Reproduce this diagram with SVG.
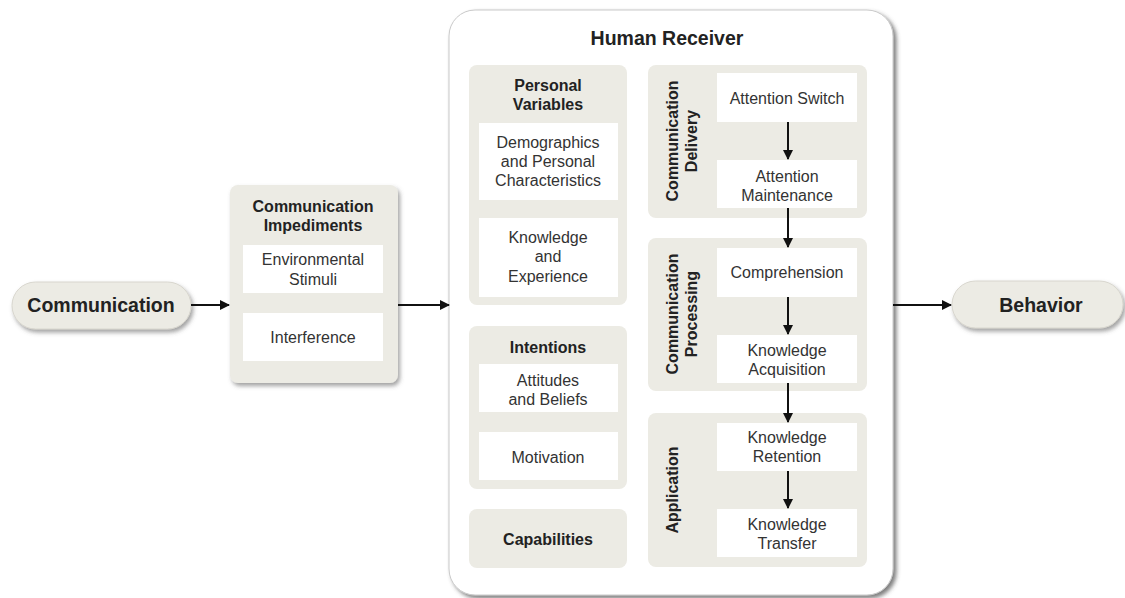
<svg xmlns="http://www.w3.org/2000/svg" width="1125" height="598" viewBox="0 0 1125 598">
<defs>
<filter id="sh" x="-10%" y="-10%" width="130%" height="130%">
<feDropShadow dx="2" dy="3" stdDeviation="2" flood-color="#555" flood-opacity="0.55"/>
</filter>
<filter id="sh2" x="-5%" y="-5%" width="115%" height="115%">
<feDropShadow dx="3" dy="3" stdDeviation="2" flood-color="#444" flood-opacity="0.7"/>
</filter>
<marker id="ah" viewBox="0 0 10 10" refX="9" refY="5" markerWidth="5" markerHeight="5" orient="auto" markerUnits="strokeWidth">
<path d="M0,0 L10,5 L0,10 z" fill="#111"/>
</marker>
<style>
.pill{fill:#ecebe4;stroke:#d8d6ce;stroke-width:1}
.panel{fill:#ecebe4}
.wbox{fill:#ffffff}
.big{fill:#ffffff;stroke:#c9c9c9;stroke-width:1}
.t{font-family:"Liberation Sans",Arial,sans-serif;font-size:16px;fill:#333;text-anchor:middle}
.b{font-family:"Liberation Sans",Arial,sans-serif;font-size:16px;font-weight:bold;fill:#222;text-anchor:middle}
.xl{font-family:"Liberation Sans",Arial,sans-serif;font-size:19.5px;font-weight:bold;fill:#222;text-anchor:middle}
.c{stroke:#111;stroke-width:2;fill:none;marker-end:url(#ah)}
</style>
</defs>
<rect width="1125" height="598" fill="#ffffff"/>

<g id="communication">
<rect class="pill" x="12" y="282" width="179" height="47" rx="23.5" filter="url(#sh)"/>
<text class="xl" x="101" y="312">Communication</text>
</g>

<g id="impediments">
<rect class="panel" x="230" y="185" width="168" height="198" rx="8" filter="url(#sh)"/>
<text class="b" x="313" y="212">Communication</text>
<text class="b" x="313" y="231">Impediments</text>
<rect class="wbox" x="243" y="245" width="140" height="48"/>
<text class="t" x="313" y="265">Environmental</text>
<text class="t" x="313" y="285">Stimuli</text>
<rect class="wbox" x="243" y="313" width="140" height="48"/>
<text class="t" x="313" y="343">Interference</text>
</g>

<g id="human-receiver">
<rect class="big" x="449" y="10" width="444" height="585" rx="26" filter="url(#sh2)"/>
<text class="xl" x="667" y="45">Human Receiver</text>
</g>

<g id="personal-variables">
<rect class="panel" x="469" y="65" width="158" height="240" rx="8"/>
<text class="b" x="548" y="91">Personal</text>
<text class="b" x="548" y="110">Variables</text>
<rect class="wbox" x="479" y="123" width="139" height="77"/>
<text class="t" x="548" y="148">Demographics</text>
<text class="t" x="548" y="167">and Personal</text>
<text class="t" x="548" y="186">Characteristics</text>
<rect class="wbox" x="479" y="218" width="139" height="79"/>
<text class="t" x="548" y="243">Knowledge</text>
<text class="t" x="548" y="262">and</text>
<text class="t" x="548" y="282">Experience</text>
</g>

<g id="intentions">
<rect class="panel" x="469" y="326" width="158" height="163" rx="8"/>
<text class="b" x="548" y="353">Intentions</text>
<rect class="wbox" x="479" y="364" width="139" height="48"/>
<text class="t" x="548" y="386">Attitudes</text>
<text class="t" x="548" y="405">and Beliefs</text>
<rect class="wbox" x="479" y="432" width="139" height="48"/>
<text class="t" x="548" y="463">Motivation</text>
</g>

<g id="capabilities">
<rect class="panel" x="469" y="509" width="158" height="59" rx="8"/>
<text class="b" x="548" y="545">Capabilities</text>
</g>

<g id="delivery">
<rect class="panel" x="648" y="65" width="219" height="153" rx="8"/>
<text class="b" transform="translate(678,141) rotate(-90)">Communication</text>
<text class="b" transform="translate(697,141) rotate(-90)">Delivery</text>
<rect class="wbox" x="717" y="73" width="140" height="49"/>
<text class="t" x="787" y="104">Attention Switch</text>
<rect class="wbox" x="717" y="160" width="140" height="48"/>
<text class="t" x="787" y="182">Attention</text>
<text class="t" x="787" y="201">Maintenance</text>
</g>

<g id="processing">
<rect class="panel" x="648" y="238" width="219" height="153" rx="8"/>
<text class="b" transform="translate(678,314) rotate(-90)">Communication</text>
<text class="b" transform="translate(697,314) rotate(-90)">Processing</text>
<rect class="wbox" x="717" y="248" width="140" height="49"/>
<text class="t" x="787" y="278">Comprehension</text>
<rect class="wbox" x="717" y="335" width="140" height="48"/>
<text class="t" x="787" y="356">Knowledge</text>
<text class="t" x="787" y="375">Acquisition</text>
</g>

<g id="application">
<rect class="panel" x="648" y="413" width="219" height="154" rx="8"/>
<text class="b" transform="translate(678,490) rotate(-90)">Application</text>
<rect class="wbox" x="717" y="423" width="140" height="48"/>
<text class="t" x="787" y="443">Knowledge</text>
<text class="t" x="787" y="462">Retention</text>
<rect class="wbox" x="717" y="509" width="140" height="48"/>
<text class="t" x="787" y="530">Knowledge</text>
<text class="t" x="787" y="549">Transfer</text>
</g>

<g id="behavior">
<rect class="pill" x="952" y="281" width="171" height="47" rx="23.5" filter="url(#sh)"/>
<text class="xl" x="1041" y="312">Behavior</text>
</g>

<g id="connectors">
<line class="c" x1="191" y1="305" x2="229" y2="305"/>
<line class="c" x1="398" y1="305" x2="449" y2="305"/>
<line class="c" x1="893" y1="305" x2="951" y2="305"/>
<line class="c" x1="788" y1="122" x2="788" y2="159"/>
<line class="c" x1="788" y1="208" x2="788" y2="247"/>
<line class="c" x1="788" y1="297" x2="788" y2="334"/>
<line class="c" x1="788" y1="383" x2="788" y2="422"/>
<line class="c" x1="788" y1="471" x2="788" y2="508"/>
</g>
</svg>
